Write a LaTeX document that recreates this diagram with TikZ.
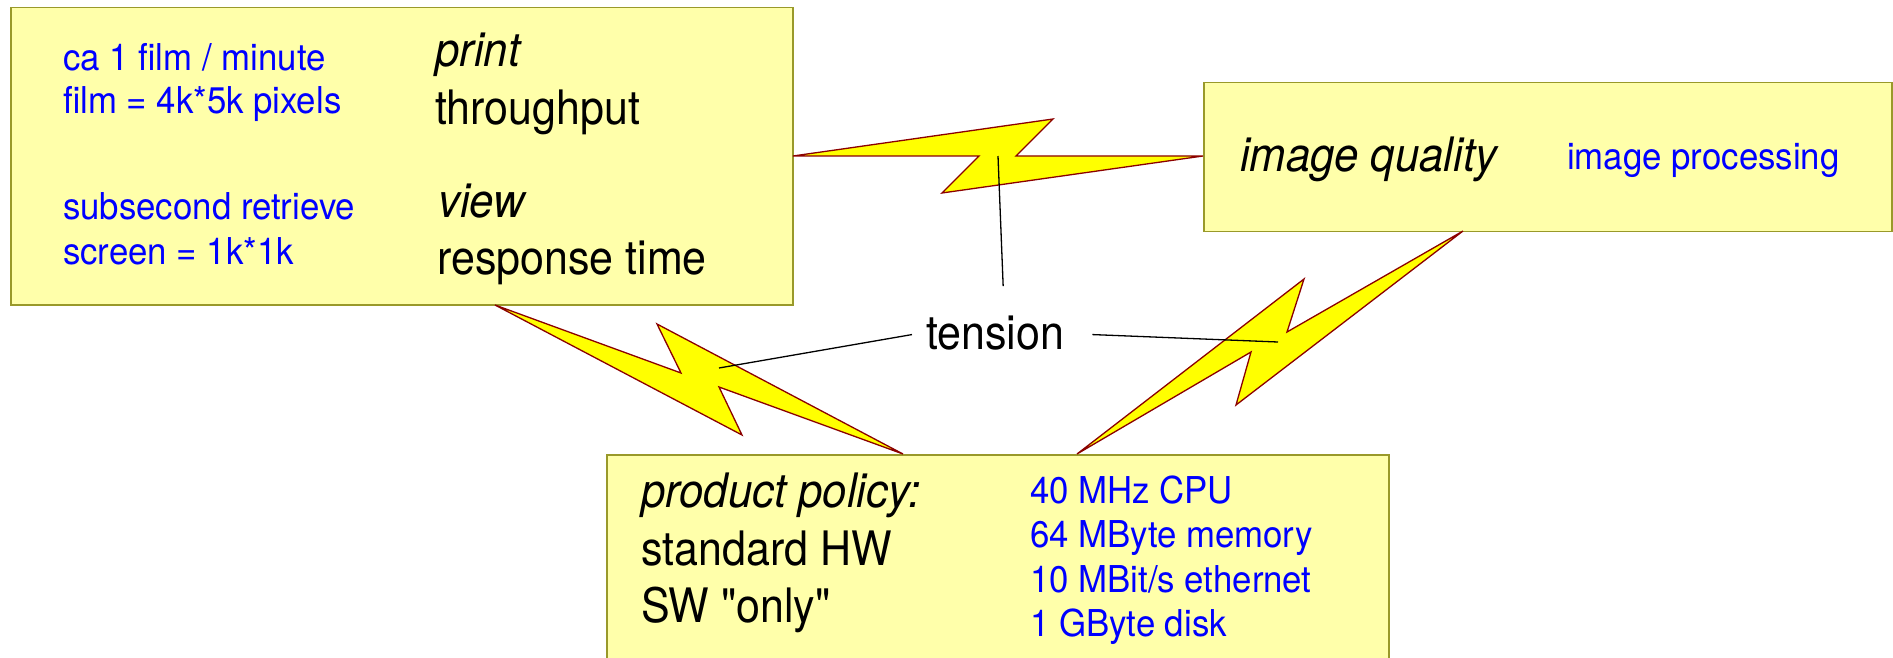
\documentclass[tikz,border=0pt]{standalone}
\usepackage{fontspec}
\newfontfamily\bigsans[FakeStretch=0.905]{TeX Gyre Heros}
\newfontfamily\italsans[FakeStretch=0.92]{TeX Gyre Heros}
\newfontfamily\smallsans[FakeStretch=0.94]{TeX Gyre Heros}
\definecolor{boxfill}{HTML}{FFFFAA}
\definecolor{boxline}{HTML}{99992A}
\definecolor{boltline}{HTML}{8B0000}
\definecolor{boltfill}{HTML}{FFFF00}
\definecolor{inkblue}{HTML}{0000FF}
\tikzset{
  x=1pt,y=-1pt,
  panel/.style={draw=boxline,fill=boxfill,line width=1.5pt,rectangle,inner sep=0pt,anchor=north west},
  bolt/.style={draw=boltline,fill=boltfill,line width=1.3pt,line join=miter},
  big/.style={anchor=base west,inner sep=0pt,text=black,font=\bigsans\fontsize{47.5}{52}\selectfont},
  bigit/.style={big,font=\italsans\fontsize{47.5}{52}\selectfont\itshape},
  small/.style={anchor=base west,inner sep=0pt,text=inkblue,font=\smallsans\fontsize{37}{42}\selectfont},
  link/.style={draw=black,line width=1.3pt},
}
\begin{document}
\begin{tikzpicture}
\path[use as bounding box,clip] (0,0) rectangle (1893,658);
% panels
\node[panel,minimum width=782pt,minimum height=297pt] (filmbox) at (10,7) {};
\node[panel,minimum width=688pt,minimum height=148.5pt] (qualitybox) at (1203,82) {};
\node[panel,minimum width=782pt,minimum height=220pt] (policybox) at (606,454) {};
% lightning bolts
\draw[bolt] (793,156) -- (979,156) -- (942,193) -- (1203,156) -- (1016,156) -- (1053,119) -- cycle;
\draw[bolt] (495,305) -- (681,373) -- (657,324) -- (903,454) -- (719,387) -- (742,435) -- cycle;
\draw[bolt] (1463,231) -- (1287,332) -- (1304,279) -- (1077,454) -- (1251,352) -- (1236,405) -- cycle;
% texts
\node[small] (t1) at (63,71) {ca 1 film / minute};
\node[small] (t2) at (63,114) {film = 4k*5k pixels};
\node[small] (t3) at (63,219.5) {subsecond retrieve};
\node[small] (t4) at (63,264.5) {screen = 1k*1k};
\node[bigit] (t5) at (435,67) {print};
\node[big] (t6) at (435,125) {throughput};
\node[bigit] (t7) at (438,217.5) {view};
\node[big] (t8) at (437,274) {response time};
\node[bigit] (t9) at (1240,171.5) {image quality};
\node[small] (t10) at (1567,169.5) {image processing};
\node[bigit] (t11) at (641,507.5) {product policy:};
\node[big] (t12) at (641,565.5) {standard HW};
\node[big] (t13) at (641,622.5) {SW "only"};
\node[small] (t14) at (1030,503) {40 MHz CPU};
\node[small] (t15) at (1030,547) {64 MByte memory};
\node[small] (t16) at (1030,592) {10 MBit/s ethernet};
\node[small] (t17) at (1030,636) {1 GByte disk};
\node[big] (tension) at (926,349) {tension};
% connectors
\coordinate (boltA) at (998,156);
\coordinate (boltB) at (719,368);
\coordinate (boltC) at (1278,342);
\draw[link] ([shift={(8,-29)}]tension.north) -- (boltA);
\draw[link] ([shift={(-14,2)}]tension.west) -- (boltB);
\draw[link] ([shift={(28,2)}]tension.east) -- (boltC);
\end{tikzpicture}
\end{document}
